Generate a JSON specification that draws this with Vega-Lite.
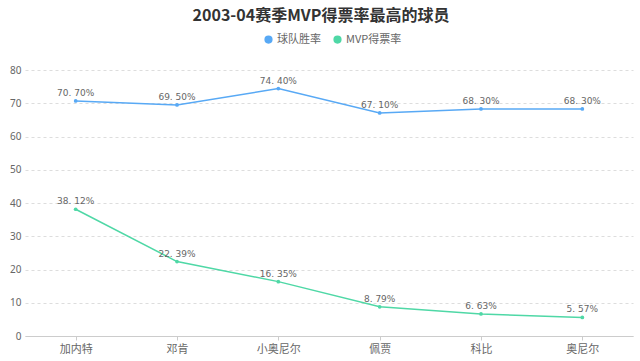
{
  "$schema": "https://vega.github.io/schema/vega-lite/v6.json",
  "width": 608,
  "height": 266,
  "autosize": {"type": "none"},
  "padding": {"left": 25, "top": 70, "right": 7, "bottom": 25},
  "background": "white",
  "title": {
    "text": "2003-04赛季MVP得票率最高的球员",
    "anchor": "middle",
    "frame": "group",
    "dx": -8,
    "offset": 10,
    "font": "Noto Sans CJK SC",
    "fontSize": 16,
    "fontWeight": "bold",
    "color": "#333333"
  },
  "data": {
    "values": [
      {"player": "加内特", "series": "球队胜率", "value": 70.70},
      {"player": "邓肯", "series": "球队胜率", "value": 69.50},
      {"player": "小奥尼尔", "series": "球队胜率", "value": 74.40},
      {"player": "佩贾", "series": "球队胜率", "value": 67.10},
      {"player": "科比", "series": "球队胜率", "value": 68.30},
      {"player": "奥尼尔", "series": "球队胜率", "value": 68.30},
      {"player": "加内特", "series": "MVP得票率", "value": 38.12},
      {"player": "邓肯", "series": "MVP得票率", "value": 22.39},
      {"player": "小奥尼尔", "series": "MVP得票率", "value": 16.35},
      {"player": "佩贾", "series": "MVP得票率", "value": 8.79},
      {"player": "科比", "series": "MVP得票率", "value": 6.63},
      {"player": "奥尼尔", "series": "MVP得票率", "value": 5.57}
    ]
  },
  "transform": [
    {"calculate": "replace(format(datum.value, '.2f'), '.', '. ') + '%'", "as": "label"}
  ],
  "encoding": {
    "x": {
      "field": "player",
      "type": "nominal",
      "sort": null,
      "scale": {"type": "point", "padding": 0.5},
      "axis": {
        "title": null,
        "labelAngle": 0,
        "labelFont": "Noto Sans CJK SC",
        "labelFontSize": 11,
        "labelColor": "#666666",
        "domainColor": "#cccccc",
        "tickColor": "#cccccc",
        "tickSize": 4,
        "labelPadding": 3,
        "grid": false
      }
    },
    "y": {
      "field": "value",
      "type": "quantitative",
      "scale": {"domain": [0, 80], "nice": false},
      "axis": {
        "title": null,
        "values": [0, 10, 20, 30, 40, 50, 60, 70, 80],
        "labelFont": "Noto Sans",
        "labelFontSize": 10,
        "labelColor": "#666666",
        "labelPadding": 4,
        "domain": false,
        "ticks": false,
        "grid": true,
        "gridColor": "#dddddd",
        "gridDash": [3, 3]
      }
    },
    "color": {
      "field": "series",
      "type": "nominal",
      "scale": {"domain": ["球队胜率", "MVP得票率"], "range": ["#58a9f5", "#4fd8a6"]},
      "legend": {
        "title": null,
        "orient": "none",
        "legendX": 238,
        "legendY": -36,
        "direction": "horizontal",
        "symbolType": "circle",
        "symbolSize": 45,
        "labelFont": "Noto Sans CJK SC",
        "labelFontSize": 11,
        "labelColor": "#666666",
        "columnPadding": 10,
        "labelOffset": 3
      }
    }
  },
  "layer": [
    {"mark": {"type": "line", "strokeWidth": 1.5}},
    {"mark": {"type": "point", "filled": true, "size": 14, "opacity": 1, "shape": "circle"}},
    {
      "mark": {"type": "text", "dy": -8, "font": "DejaVu Sans", "fontSize": 9, "color": "#666666"},
      "encoding": {"text": {"field": "label"}, "color": {"value": "#666666"}}
    }
  ],
  "config": {"view": {"stroke": null}}
}
